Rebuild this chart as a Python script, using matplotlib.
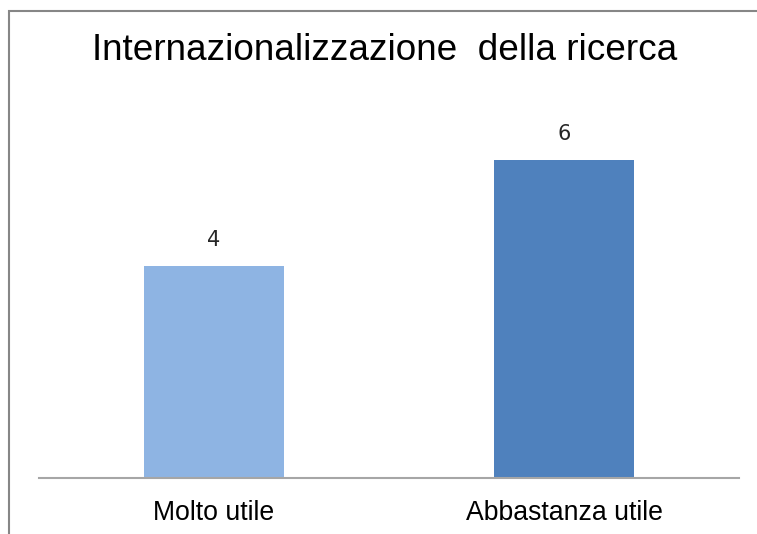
import matplotlib.pyplot as plt
from matplotlib.patches import Rectangle

categories = ['Molto utile', 'Abbastanza utile']
values = [4, 6]
colors = ['#8EB4E3', '#4F81BD']
title = 'Internazionalizzazione  della ricerca'

W, H = 757, 534
fig = plt.figure(figsize=(W / 100, H / 100), dpi=100)

# outer chart border (runs off right and bottom edges)
fig.patches.append(Rectangle((8.5 / W, -0.1), 1.2, 1 - 11 / H + 0.1, transform=fig.transFigure,
                             fill=False, edgecolor='#868686', lw=1.5))

ax = fig.add_axes([39 / W, (H - 478) / H, 700 / W, 371 / H])
x = range(len(categories))
bars = ax.bar(x, values, width=0.4, color=colors)
ax.set_xlim(-0.5, 1.5)
ax.set_ylim(0, 7)

for b, v in zip(bars, values):
    ax.text(b.get_x() + b.get_width() / 2, v + 0.3, str(v), ha='center', va='bottom',
            fontsize=15, family='DejaVu Sans', color='#262626')

ax.set_xticks(list(x))
ax.set_xticklabels(categories, fontsize=19.2, family='Liberation Sans')
ax.tick_params(axis='x', length=0, pad=16)
ax.set_yticks([])
for s in ['left', 'right', 'top']:
    ax.spines[s].set_visible(False)
ax.spines['bottom'].set_color('#A6A6A6')
ax.spines['bottom'].set_linewidth(1.5)
ax.patch.set_alpha(0)

fig.text(385 / W, 1 - 50 / H, title, ha='center', va='center', fontsize=26.6,
         family='Liberation Sans')

fig.savefig('out.png', dpi=100)
